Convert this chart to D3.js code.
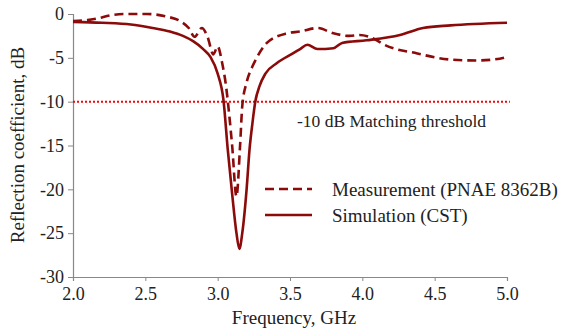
<!DOCTYPE html>
<html>
<head>
<meta charset="utf-8">
<script src="https://cdn.jsdelivr.net/npm/d3@7"></script>
<style>
  body { margin: 0; background: #fff; }
  svg text { font-family: "Liberation Serif", "DejaVu Serif", serif; fill: #222; }
</style>
</head>
<body>
<svg id="drawing_region"></svg>
<script>
// measured S11 (dashed)
const measFreq = [2.0, 2.1, 2.17, 2.26, 2.37, 2.51, 2.65, 2.74, 2.8, 2.84, 2.89, 2.93, 2.97, 3.0, 3.03, 3.06, 3.08, 3.1, 3.13, 3.155, 3.17, 3.2, 3.24, 3.27, 3.34, 3.48, 3.57, 3.69, 3.8, 3.91, 3.98, 4.1, 4.14, 4.38, 4.61, 4.79, 4.95, 5.0]
const measDb   = [-0.8, -0.7, -0.5, -0.15, 0, 0, -0.3, -0.8, -1.6, -2.6, -1.6, -2.6, -4.6, -3.7, -5.5, -8.5, -11.5, -15, -20.8, -15, -10.5, -7.8, -6, -5.0, -3.3, -2.2, -2.0, -1.6, -2.2, -2.5, -2.4, -3.0, -3.4, -4.5, -5.2, -5.3, -5.1, -4.9]

// CST simulation (solid)
const simFreq = [2.0, 2.2, 2.4, 2.55, 2.67, 2.76, 2.83, 2.9, 2.95, 3.0, 3.04, 3.07, 3.1, 3.13, 3.15, 3.17, 3.2, 3.22, 3.24, 3.26, 3.29, 3.33, 3.41, 3.52, 3.57, 3.62, 3.69, 3.8, 3.86, 4.03, 4.26, 4.42, 4.61, 5.0]
const simDb   = [-0.9, -1.0, -1.2, -1.6, -2.0, -2.5, -3.1, -4.0, -4.9, -6.8, -9.8, -15.5, -20.5, -25, -26.8, -25, -20, -15.5, -12.5, -10, -8.2, -6.8, -5.6, -4.5, -4.0, -3.5, -4.0, -3.9, -3.3, -3.0, -2.4, -1.6, -1.3, -1.0]

const xTicks = [2.0, 2.5, 3.0, 3.5, 4.0, 4.5, 5.0]
const yTicks = [0, -5, -10, -15, -20, -25, -30]
const threshold = -10
const legendLabels = ['Measurement (PNAE 8362B)', 'Simulation (CST)']

const width = 561, height = 335
const lineColor = '#8b0a0a'

const svg = d3.select('#drawing_region')
  .attr('width', width)
  .attr('height', height)

const x = d3.scaleLinear().domain([2, 5]).range([73, 507])
const y = d3.scaleLinear().domain([-30, 0]).range([277, 14])

// axes
const xAxis = svg.append('g')
  .attr('transform', `translate(0,${y(-30)})`)
  .call(d3.axisBottom(x).tickValues(xTicks).tickFormat(d3.format('.1f')).tickSize(4).tickPadding(6))
const yAxis = svg.append('g')
  .attr('transform', `translate(${x(2)},0)`)
  .call(d3.axisLeft(y).tickValues(yTicks).tickFormat(d => d).tickSize(5).tickPadding(4))

;[xAxis, yAxis].forEach(g => {
  g.select('.domain').attr('stroke', '#888').attr('stroke-width', 1.2)
  g.selectAll('.tick line').attr('stroke', '#888')
  g.selectAll('.tick text')
    .attr('font-family', '"Liberation Serif", serif')
    .attr('font-size', 18)
    .attr('fill', '#222')
})

// axis titles
svg.append('text')
  .attr('x', 294).attr('y', 324)
  .attr('text-anchor', 'middle')
  .attr('font-size', 19)
  .text('Frequency, GHz')

svg.append('text')
  .attr('transform', `translate(24,145) rotate(-90)`)
  .attr('text-anchor', 'middle')
  .attr('font-size', 19)
  .text('Reflection coefficient, dB')

// threshold line
svg.append('line')
  .attr('x1', x(2)).attr('x2', x(5.02))
  .attr('y1', y(threshold)).attr('y2', y(threshold))
  .attr('stroke', '#ff0000')
  .attr('stroke-width', 2)
  .attr('stroke-dasharray', '2,2')

svg.append('text')
  .attr('x', 297).attr('y', 127)
  .attr('font-size', 17.5)
  .text('-10 dB Matching threshold')

const line = d3.line()
  .x(d => x(d[0]))
  .y(d => y(d[1]))
  .curve(d3.curveMonotoneX)

svg.append('path')
  .datum(simFreq.map((f, i) => [f, simDb[i]]))
  .attr('d', line)
  .attr('fill', 'none')
  .attr('stroke', lineColor)
  .attr('stroke-width', 2.6)

svg.append('path')
  .datum(measFreq.map((f, i) => [f, measDb[i]]))
  .attr('d', line)
  .attr('fill', 'none')
  .attr('stroke', lineColor)
  .attr('stroke-width', 2.6)
  .attr('stroke-dasharray', '9,5')

// legend
const legend = svg.append('g')
const legendY = [189, 215]
legendLabels.forEach((lab, i) => {
  legend.append('line')
    .attr('x1', 265).attr('x2', 312)
    .attr('y1', legendY[i]).attr('y2', legendY[i])
    .attr('stroke', lineColor)
    .attr('stroke-width', 2.6)
    .attr('stroke-dasharray', i === 0 ? '9,5' : null)
  legend.append('text')
    .attr('x', 332).attr('y', legendY[i] + 7)
    .attr('font-size', 19)
    .text(lab)
})
</script>
</body>
</html>
